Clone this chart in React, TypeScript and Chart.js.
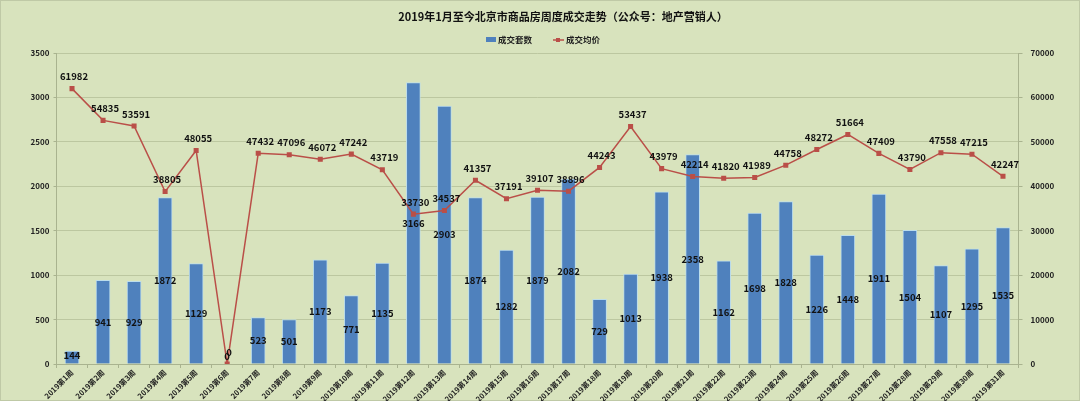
import React, { useEffect, useRef } from "react";
import { Chart, registerables } from "chart.js";

Chart.register(...registerables);

const TITLE = "2019年1月至今北京市商品房周度成交走势（公众号：地产营销人）";
const SERIES_COUNT = "成交套数";
const SERIES_PRICE = "成交均价";

const weeks: string[] = Array.from({ length: 31 }, (_, i) => `2019第${i + 1}周`);

const counts: number[] = [
  144, 941, 929, 1872, 1129, 0, 523, 501, 1173, 771, 1135, 3166, 2903, 1874, 1282, 1879,
  2082, 729, 1013, 1938, 2358, 1162, 1698, 1828, 1226, 1448, 1911, 1504, 1107, 1295, 1535,
];

const prices: number[] = [
  61982, 54835, 53591, 38805, 48055, 0, 47432, 47096, 46072, 47242, 43719, 33730, 34537, 41357,
  37191, 39107, 38896, 44243, 53437, 43979, 42214, 41820, 41989, 44758, 48272, 51664, 47409,
  43790, 47558, 47215, 42247,
];

const BG = "#D8E3BD";
const BAR = "#4F81BD";
const LINE = "#BA4F48";
const FONT = '"Noto Sans CJK SC", "Noto Sans", sans-serif';

export default function App() {
  const ref = useRef<HTMLCanvasElement | null>(null);

  useEffect(() => {
    document.body.style.margin = "0";
    const canvas = ref.current;
    if (!canvas) return;

    const bgPlugin = {
      id: "bgPlugin",
      beforeDraw(chart: any) {
        const c = chart.ctx;
        c.save();
        c.fillStyle = BG;
        c.fillRect(0, 0, chart.width, chart.height);
        c.strokeStyle = "#BFC9A6";
        c.lineWidth = 1;
        c.strokeRect(0.5, 0.5, chart.width - 1, chart.height - 1);
        c.restore();
      },
      afterDraw(chart: any) {
        const c = chart.ctx;
        c.save();
        c.fillStyle = "#111";
        c.textBaseline = "middle";
        c.textAlign = "center";
        c.font = `bold 11px ${FONT}`;
        c.fillText(TITLE, 563, 17);
        // legend
        c.font = `bold 8.5px ${FONT}`;
        c.textAlign = "left";
        c.fillStyle = BAR;
        c.fillRect(486, 37, 10, 5);
        c.fillStyle = "#222";
        c.fillText(SERIES_COUNT, 498, 40);
        c.strokeStyle = LINE;
        c.lineWidth = 1.5;
        c.beginPath();
        c.moveTo(553, 40);
        c.lineTo(564, 40);
        c.stroke();
        c.fillStyle = LINE;
        c.fillRect(556, 38, 4, 4);
        c.fillStyle = "#222";
        c.fillText(SERIES_PRICE, 566, 40);
        c.restore();
      },
    };

    const labelPlugin = {
      id: "labelPlugin",
      afterDatasetsDraw(chart: any) {
        const c = chart.ctx;
        c.save();
        c.font = `bold 9.5px ${FONT}`;
        c.fillStyle = "#111";
        c.textAlign = "center";
        c.textBaseline = "middle";
        const mb = chart.getDatasetMeta(1);
        mb.data.forEach((bar: any, i: number) => {
          const y = (bar.y + bar.base) / 2;
          c.fillText(String(counts[i]), bar.x, Math.min(y, bar.base - 8));
        });
        const ml = chart.getDatasetMeta(0);
        ml.data.forEach((pt: any, i: number) => {
          c.fillText(String(prices[i]), pt.x + 2, pt.y - 12);
        });
        c.restore();
      },
    };

    const plain = (v: any) => String(v);

    const chart = new Chart(canvas, {
      type: "bar",
      data: {
        labels: weeks,
        datasets: [
          {
            type: "line",
            label: SERIES_PRICE,
            data: prices,
            yAxisID: "y1",
            borderColor: LINE,
            backgroundColor: LINE,
            borderWidth: 1.5,
            pointStyle: "rect",
            pointRadius: 2.5,
            pointBackgroundColor: LINE,
            pointBorderColor: LINE,
            tension: 0,
            order: 0,
          } as any,
          {
            type: "bar",
            label: SERIES_COUNT,
            data: counts,
            yAxisID: "y",
            backgroundColor: BAR,
            borderColor: "#BCDDEB",
            borderWidth: { left: 1, right: 1, top: 1, bottom: 0 },
            barThickness: 14,
            order: 1,
          } as any,
        ],
      },
      options: {
        responsive: false,
        animation: false,
        devicePixelRatio: 1,
        layout: { padding: { top: 53, left: 0, right: 0, bottom: 0 } },
        plugins: {
          legend: { display: false },
          title: { display: false },
          tooltip: { enabled: false },
        },
        scales: {
          x: {
            grid: {
              display: true,
              drawOnChartArea: false,
              drawTicks: true,
              tickLength: 4,
              color: "#A9B38F",
            },
            border: { color: "#A9B38F" },
            ticks: {
              font: { family: FONT, size: 7.5, weight: "bold" },
              color: "#222",
              minRotation: 45,
              maxRotation: 45,
              autoSkip: false,
              padding: 0,
            },
            afterFit(scale: any) {
              scale.height = 37;
            },
          },
          y: {
            position: "left",
            min: 0,
            max: 3500,
            ticks: {
              stepSize: 500,
              callback: plain,
              font: { family: FONT, size: 8, weight: "bold" },
              color: "#222",
              padding: 4,
            },
            grid: {
              color: "#BCC7A0",
              tickLength: 3,
              tickColor: "#A9B38F",
            },
            border: { color: "#A9B38F" },
            afterFit(scale: any) {
              scale.width = 56.5;
            },
          },
          y1: {
            position: "right",
            min: 0,
            max: 70000,
            ticks: {
              stepSize: 10000,
              callback: plain,
              font: { family: FONT, size: 8, weight: "bold" },
              color: "#222",
              padding: 8,
            },
            grid: {
              drawOnChartArea: false,
              tickLength: 4,
              color: "#A9B38F",
            },
            border: { color: "#A9B38F" },
            afterFit(scale: any) {
              scale.width = 61.5;
            },
          },
        },
      },
      plugins: [bgPlugin, labelPlugin],
    });

    return () => {
      chart.destroy();
    };
  }, []);

  return <canvas ref={ref} width={1080} height={401} style={{ display: "block" }} />;
}
